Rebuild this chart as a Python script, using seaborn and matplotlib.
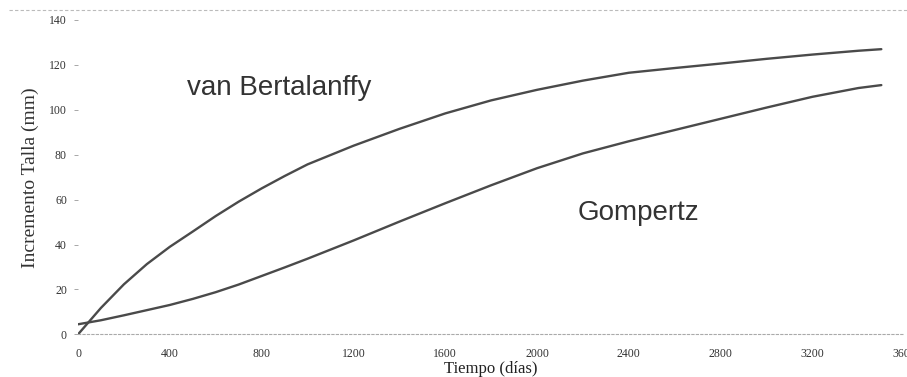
import numpy as np
import pandas as pd
import matplotlib
matplotlib.use("Agg")
import matplotlib.pyplot as plt
import seaborn as sns
from matplotlib.lines import Line2D

# Datos (tiempo en dias, incremento de talla en mm)
tiempo = [0, 100, 200, 300, 400, 500, 600, 700, 800, 900, 1000, 1200,
          1400, 1600, 1800, 2000, 2200, 2400, 2600, 2800, 3000, 3200,
          3400, 3500]
bertalanffy = [0, 11.8, 22.3, 31.3, 39, 45.8, 52.7, 59.1, 65, 70.5, 75.7, 84,
               91.5, 98.4, 104.2, 108.9, 113, 116.5, 118.6, 120.6, 122.7, 124.6,
               126.3, 127]
gompertz = [4.5, 6.3, 8.5, 10.8, 13.1, 15.8, 18.8, 22.2, 26, 29.8, 33.7, 41.8,
            50.2, 58.4, 66.4, 74, 80.6, 86, 91, 96, 101, 105.8,
            109.7, 111]

x_ticks = list(range(0, 3601, 400))
y_ticks = list(range(0, 141, 20))

df = pd.DataFrame({
    'Tiempo': tiempo * 2,
    'Talla': bertalanffy + gompertz,
    'Modelo': ['van Bertalanffy'] * len(tiempo) + ['Gompertz'] * len(tiempo),
})

sns.set_style('white')
serif = ['Liberation Serif', 'DejaVu Serif']
sans = ['Liberation Sans', 'DejaVu Sans']

fig = plt.figure(figsize=(9.07, 3.77), dpi=100)
ax = fig.add_axes([0.086, 0.113, 0.911, 0.834])

sns.lineplot(data=df, x='Tiempo', y='Talla', hue='Modelo',
             palette=['#4a4a4a', '#4a4a4a'], linewidth=1.7,
             legend=False, ax=ax)

ax.set_xlim(0, 3600)
ax.set_ylim(0, 140)
ax.set_xticks(x_ticks)
ax.set_yticks(y_ticks)
ax.set_xticklabels([str(v) for v in x_ticks], family=serif, fontsize=8.5, color='#333333')
ax.set_yticklabels([str(v) for v in y_ticks], family=serif, fontsize=8.5, color='#333333')
ax.tick_params(axis='y', left=True, length=3, width=0.6, color='#999999', pad=5)
ax.tick_params(axis='x', bottom=False, pad=6)

for side in ['top', 'right', 'left']:
    ax.spines[side].set_visible(False)
ax.spines['bottom'].set_linestyle((0, (2, 2)))
ax.spines['bottom'].set_color('#aaaaaa')
ax.spines['bottom'].set_linewidth(0.8)

ax.set_xlabel('Tiempo (días)', family=serif, fontsize=12,
              color='#222222', labelpad=1)
ax.set_ylabel('Incremento Talla (mm)', family=serif, fontsize=14,
              color='#333333', labelpad=7)

ax.text(0.244, 0.784, 'van Bertalanffy', transform=ax.transAxes,
        family=sans, fontsize=20, color='#333333', ha='center', va='center')
ax.text(0.678, 0.386, 'Gompertz', transform=ax.transAxes,
        family=sans, fontsize=20, color='#333333', ha='center', va='center')

# borde superior punteado del escaneo
fig.add_artist(Line2D([0.01, 1.0], [0.973, 0.973], transform=fig.transFigure,
                      color='#bbbbbb', linewidth=0.8, linestyle=(0, (3, 2))))

fig.savefig('out.png', dpi=100, facecolor='white')
